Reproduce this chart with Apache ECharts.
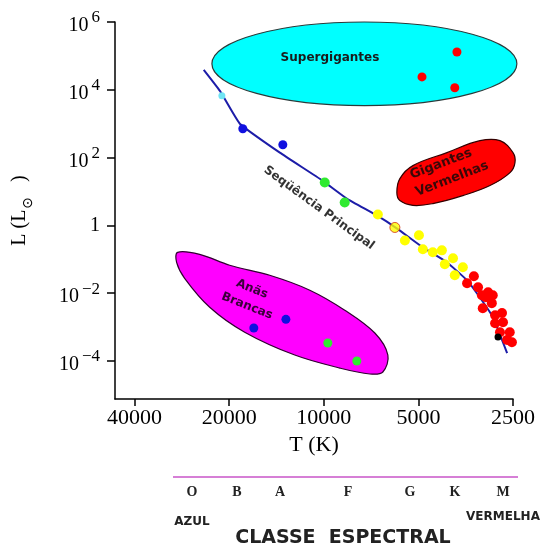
<!DOCTYPE html>
<html><head><meta charset="utf-8">
<script src="https://cdn.jsdelivr.net/npm/echarts@6/dist/echarts.min.js"></script>
<style>html,body{margin:0;padding:0;background:#fff}#c{width:542px;height:547px}</style>
</head><body><div id="c"></div>
<script>
// ---------- data: temperature T in kelvin, luminosity L in solar units ----------
const tempTicks = [40000, 20000, 10000, 5000, 2500];
const lumTicks = [1e6, 1e4, 1e2, 1, 1e-2, 1e-4];
const spectralClasses = ['O', 'B', 'A', 'F', 'G', 'K', 'M'];

const mainSeqLineT = [24100, 21400, 18500, 13800, 10100, 8450, 6780, 5860, 4840, 4060, 3500, 3190, 2900, 2610];
const mainSeqLineL = [3.9e4, 9300, 1000, 140, 21, 6.2, 1.97, 0.82, 0.225, 0.082, 0.024, 0.0076, 0.002, 1.7e-4];

const cyanStarsT = [21100];
const cyanStarsL = [6700];
const blueStarsT = [18100, 13500];
const blueStarsL = [710, 240];
const greenStarsT = [9930, 8580];
const greenStarsL = [18.4, 4.75];
const sunT = [5940];
const sunL = [0.87];
const yellowStarsT = [6730, 5520, 4980, 4840, 4500, 4210, 3880, 4120, 3610, 3830];
const yellowStarsL = [2.1, 0.36, 0.51, 0.197, 0.161, 0.184, 0.107, 0.0713, 0.0582, 0.0338];
const redDwarfsT = [3500, 3330, 3230, 3140, 3000, 2900, 3120, 2920, 2850, 2710, 2690, 2850, 2560, 2610, 2520, 2750, 3050];
const redDwarfsL = [0.0197, 0.0316, 0.015, 0.0087, 0.0107, 0.0087, 0.0036, 0.0051, 0.00225, 0.0026, 0.0014, 0.0013, 7.1e-4, 4.2e-4, 3.6e-4, 7.1e-4, 0.0076];
const blackStarT = [2790];
const blackStarL = [5.1e-4];
const superGiantsT = [3770, 4870, 3830];
const superGiantsL = [1.3e5, 2.4e4, 1.15e4];
const whiteDwarfBlueT = [13200, 16700];
const whiteDwarfBlueL = [1.7e-3, 9.4e-4];
const whiteDwarfGreenT = [9710, 7850];
const whiteDwarfGreenL = [3.4e-4, 1.0e-4];

// region outlines (T, L)
const superGiantBoundsT = [22700, 2430];
const superGiantBoundsL = [3400, 1e6];
const redGiantOutline = [[5855, 9.35], [5727, 24], [5205, 58], [4057, 140], [3185, 316], [2750, 316], [2500, 140], [2464, 71], [2555, 36], [2959, 15], [3608, 7.6], [4496, 4.4], [5205, 3.9], [5727, 5.4]];
const whiteDwarfOutline = [[29180, 0.161], [24830, 0.14], [19930, 0.0667], [14860, 0.0338], [11080, 0.0123], [8575, 0.00316], [6880, 6.7e-4], [6253, 1.5e-4], [6487, 4.75e-5], [7136, 4.15e-5], [8893, 6.2e-5], [12370, 1.5e-4], [17850, 7.1e-4], [23070, 3.87e-3], [27720, 0.0276], [29400, 0.0816]];

// ---------- helpers: axis units (octaves above 2500 K, decades of L) ----------
const tx = T => Math.log2(T / 2500);
const ly = L => Math.log10(L);
const pts = (Ts, Ls) => Ts.map((t, i) => [tx(t), ly(Ls[i])]);

const serif = 'Liberation Serif';
const sans = 'DejaVu Sans';

function scatter(Ts, Ls, color, size, extra) {
  return Object.assign({
    type: 'scatter', data: pts(Ts, Ls), symbolSize: size, z: 5, silent: true,
    itemStyle: { color: color, opacity: 1 }
  }, extra || {});
}

const chart = echarts.init(document.getElementById('c'), null, { renderer: 'canvas' });

const supLabel = v => {
  if (Math.abs(v) < 1e-9) return '{one|1}';
  const n = Math.round(v);
  return '{b|10}{s|' + (n < 0 ? '\u2212' + (-n) : n) + '}';
};

const letterX = [192, 237, 280, 348, 410, 455, 503];
const graphics = [
  { type: 'line', shape: { x1: 173, y1: 477, x2: 518, y2: 477 }, style: { stroke: '#d67fd6', lineWidth: 2 } },
  { type: 'text', x: 192, y: 522, style: { text: 'AZUL', font: 'bold 12px "DejaVu Sans"', fill: '#222', align: 'center', verticalAlign: 'middle' } },
  { type: 'text', x: 503, y: 517, style: { text: 'VERMELHA', font: 'bold 12px "DejaVu Sans"', fill: '#222', align: 'center', verticalAlign: 'middle' } },
  { type: 'text', x: 343, y: 538, style: { text: 'CLASSE  ESPECTRAL', font: 'bold 19px "DejaVu Sans"', fill: '#222', align: 'center', verticalAlign: 'middle' } },
  { type: 'text', x: 330, y: 58, z: 10, style: { text: 'Supergigantes', font: 'bold 12px "DejaVu Sans"', fill: '#1a1a1a', align: 'center', verticalAlign: 'middle' } },
  { type: 'text', x: 319, y: 208, rotation: -0.628, z: 10, style: { text: 'Seq\u00fc\u00eancia Principal', font: 'bold 12px "DejaVu Sans"', fill: '#333', align: 'center', verticalAlign: 'middle' } },
  { type: 'text', x: 441, y: 164, rotation: 0.367, z: 10, style: { text: 'Gigantes', font: 'bold 13px "DejaVu Sans"', fill: '#3a0808', align: 'center', verticalAlign: 'middle' } },
  { type: 'text', x: 452, y: 179, rotation: 0.367, z: 10, style: { text: 'Vermelhas', font: 'bold 13px "DejaVu Sans"', fill: '#3a0808', align: 'center', verticalAlign: 'middle' } },
  { type: 'text', x: 252, y: 289, rotation: -0.38, z: 10, style: { text: 'An\u00e3s', font: 'bold 12px "DejaVu Sans"', fill: '#3a003a', align: 'center', verticalAlign: 'middle' } },
  { type: 'text', x: 247, y: 306, rotation: -0.38, z: 10, style: { text: 'Brancas', font: 'bold 12px "DejaVu Sans"', fill: '#3a003a', align: 'center', verticalAlign: 'middle' } }
];
spectralClasses.forEach((c, i) => graphics.push({
  type: 'text', x: letterX[i], y: 492,
  style: { text: c, font: 'bold 14px "Liberation Serif"', fill: '#222', align: 'center', verticalAlign: 'middle' }
}));

const option = {
  animation: false,
  backgroundColor: '#fff',
  grid: { left: 115, right: 29, top: 22, bottom: 148, containLabel: false, outerBoundsMode: 'none' },
  xAxis: {
    type: 'value', inverse: true, min: 0, max: 4.207,
    splitLine: { show: false },
    axisLine: { show: true, onZero: false, lineStyle: { color: '#000', width: 1.5 } },
    axisTick: { show: true, customValues: tempTicks.map(tx), length: 7, lineStyle: { color: '#000', width: 1.5 } },
    axisLabel: {
      show: true, customValues: tempTicks.map(tx), margin: 8,
      formatter: v => String(Math.round(2500 * Math.pow(2, v))),
      fontFamily: serif, fontSize: 22, color: '#000'
    },
    name: 'T (K)', nameLocation: 'middle', nameGap: 23,
    nameTextStyle: { fontFamily: serif, fontSize: 22, color: '#000' }
  },
  yAxis: {
    type: 'value', min: -5.12, max: 6,
    splitLine: { show: false },
    axisLine: { show: true, onZero: false, lineStyle: { color: '#000', width: 1.5 } },
    axisTick: { show: true, customValues: lumTicks.map(ly), length: 8, lineStyle: { color: '#000', width: 1.5 } },
    axisLabel: {
      show: true, customValues: lumTicks.map(ly), margin: 15,
      formatter: supLabel,
      rich: {
        b: { fontFamily: serif, fontSize: 20, lineHeight: 20, padding: [8, 0, 0, 0], color: '#000' },
        s: { fontFamily: serif, fontSize: 17, lineHeight: 20, padding: [0, 0, 8, 3], color: '#000' },
        one: { fontFamily: serif, fontSize: 20, lineHeight: 28, color: '#000' }
      }
    },
    name: '{b|L (L}{s|\u2299}{b|   )}', nameLocation: 'middle', nameRotate: 90, nameGap: 80,
    nameTextStyle: {
      rich: {
        b: { fontFamily: serif, fontSize: 20, lineHeight: 22, padding: [0, 0, 8, 0], color: '#000' },
        s: { fontFamily: sans, fontSize: 14, lineHeight: 22, padding: [8, 0, 0, 1], color: '#000' }
      }
    }
  },
  graphic: graphics,
  series: [
    {
      type: 'custom', z: 1, silent: true, clip: false,
      data: [[tx(superGiantBoundsT[0]), ly(superGiantBoundsL[0])]],
      renderItem: (params, api) => {
        const a = api.coord([tx(superGiantBoundsT[0]), ly(superGiantBoundsL[0])]);
        const b = api.coord([tx(superGiantBoundsT[1]), ly(superGiantBoundsL[1])]);
        return {
          type: 'ellipse',
          shape: { cx: (a[0] + b[0]) / 2, cy: (a[1] + b[1]) / 2, rx: Math.abs(b[0] - a[0]) / 2, ry: Math.abs(b[1] - a[1]) / 2 },
          style: { fill: '#00ffff', stroke: '#2a3a3a', lineWidth: 1.2 }
        };
      }
    },
    {
      type: 'custom', z: 1, silent: true, clip: false,
      data: [[tx(redGiantOutline[0][0]), ly(redGiantOutline[0][1])]],
      renderItem: (params, api) => ({
        type: 'polygon',
        shape: { points: redGiantOutline.map(p => api.coord([tx(p[0]), ly(p[1])])), smooth: 0.4 },
        style: { fill: '#ff0000', stroke: '#330000', lineWidth: 1.2 }
      })
    },
    {
      type: 'custom', z: 1, silent: true, clip: false,
      data: [[tx(whiteDwarfOutline[0][0]), ly(whiteDwarfOutline[0][1])]],
      renderItem: (params, api) => ({
        type: 'polygon',
        shape: { points: whiteDwarfOutline.map(p => api.coord([tx(p[0]), ly(p[1])])), smooth: 0.35 },
        style: { fill: '#ff00ff', stroke: '#300030', lineWidth: 1.2 }
      })
    },
    {
      type: 'line', z: 3, silent: true, smooth: 0.12, showSymbol: false, symbol: 'none',
      data: pts(mainSeqLineT, mainSeqLineL),
      lineStyle: { color: '#1c1ca8', width: 2 }
    },
    scatter(cyanStarsT, cyanStarsL, '#70e4f4', 7),
    scatter(blueStarsT, blueStarsL, '#1010e0', 9),
    scatter(greenStarsT, greenStarsL, '#30ea30', 10),
    scatter(yellowStarsT, yellowStarsL, '#ffff00', 10),
    scatter(sunT, sunL, '#ffff00', 10, { itemStyle: { color: '#ffff00', borderColor: '#d03010', borderWidth: 1 } }),
    scatter(redDwarfsT, redDwarfsL, '#ff0000', 10),
    scatter(blackStarT, blackStarL, '#000000', 7, { z: 6 }),
    scatter(superGiantsT, superGiantsL, '#ff0000', 9),
    scatter(whiteDwarfBlueT, whiteDwarfBlueL, '#1010e0', 9),
    scatter(whiteDwarfGreenT, whiteDwarfGreenL, '#30ea30', 9)
  ]
};
chart.setOption(option);
</script>
</body></html>
